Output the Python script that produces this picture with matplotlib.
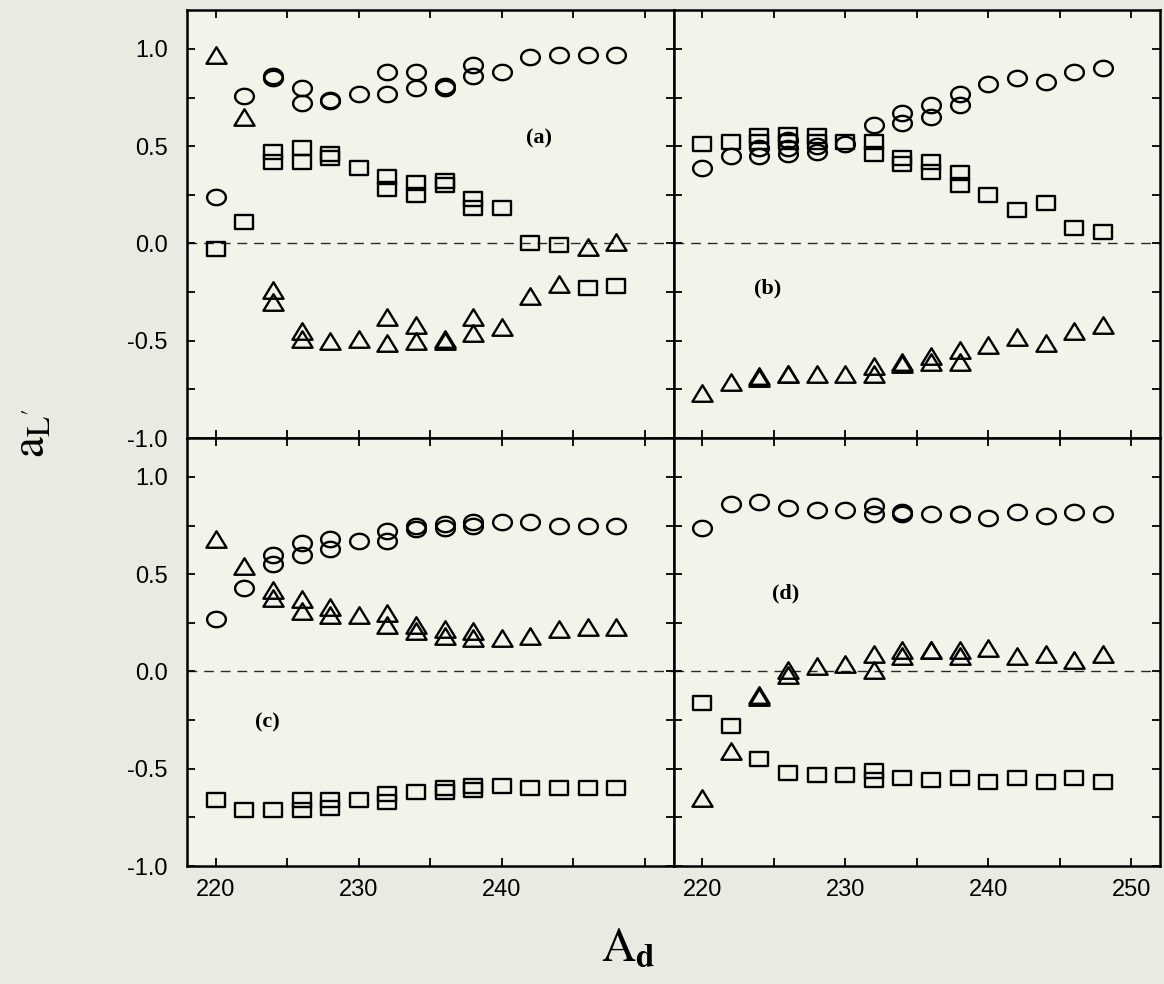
import numpy as np
import matplotlib
matplotlib.use("Agg")
import matplotlib.pyplot as plt
from matplotlib.path import Path

plt.rcParams['axes.unicode_minus'] = False
plt.rcParams['mathtext.fontset'] = 'stix'

# A_d values (one entry per point, repeated where points overlap)
# ---- panel (a)
a_circ_x = [220, 222, 224, 224, 226, 226, 228, 228, 230, 232, 232, 234, 234, 236, 236, 238, 238, 240, 242, 244, 246, 248]
a_circ_y = [0.24, 0.76, 0.86, 0.85, 0.80, 0.72, 0.74, 0.73, 0.77, 0.88, 0.77, 0.88, 0.80, 0.81, 0.80, 0.92, 0.86, 0.88, 0.96, 0.97, 0.97, 0.97]
a_sq_x = [220, 222, 224, 224, 226, 226, 228, 228, 230, 232, 232, 234, 234, 236, 236, 238, 238, 240, 242, 244, 246, 248]
a_sq_y = [-0.03, 0.11, 0.47, 0.42, 0.49, 0.42, 0.46, 0.44, 0.39, 0.34, 0.28, 0.31, 0.25, 0.32, 0.30, 0.23, 0.18, 0.18, 0.00, -0.01, -0.23, -0.22]
a_tri_x = [220, 222, 224, 224, 226, 226, 228, 230, 232, 232, 234, 234, 236, 236, 238, 238, 240, 242, 244, 246, 248]
a_tri_y = [0.97, 0.65, -0.24, -0.30, -0.45, -0.49, -0.50, -0.49, -0.38, -0.51, -0.42, -0.50, -0.49, -0.50, -0.38, -0.46, -0.43, -0.27, -0.21, -0.02, 0.01]

# ---- panel (b)
b_circ_x = [220, 222, 224, 224, 226, 226, 226, 228, 228, 230, 232, 234, 234, 236, 236, 238, 238, 240, 242, 244, 246, 248]
b_circ_y = [0.39, 0.45, 0.49, 0.45, 0.53, 0.49, 0.46, 0.50, 0.47, 0.51, 0.61, 0.67, 0.62, 0.71, 0.65, 0.77, 0.71, 0.82, 0.85, 0.83, 0.88, 0.90]
b_sq_x = [220, 222, 224, 224, 226, 226, 228, 228, 230, 232, 232, 234, 234, 236, 236, 238, 238, 240, 242, 244, 246, 248]
b_sq_y = [0.51, 0.52, 0.55, 0.52, 0.56, 0.52, 0.55, 0.52, 0.52, 0.52, 0.46, 0.44, 0.41, 0.42, 0.37, 0.36, 0.30, 0.25, 0.17, 0.21, 0.08, 0.06]
b_tri_x = [220, 222, 224, 224, 226, 226, 228, 230, 232, 232, 234, 234, 236, 236, 238, 238, 240, 242, 244, 246, 248]
b_tri_y = [-0.77, -0.71, -0.68, -0.69, -0.67, -0.67, -0.67, -0.67, -0.63, -0.67, -0.61, -0.62, -0.58, -0.61, -0.55, -0.61, -0.52, -0.48, -0.51, -0.45, -0.42]

# ---- panel (c)
c_circ_x = [220, 222, 224, 224, 226, 226, 228, 228, 230, 232, 232, 234, 234, 236, 236, 238, 238, 240, 242, 244, 246, 248]
c_circ_y = [0.27, 0.43, 0.60, 0.55, 0.66, 0.60, 0.68, 0.63, 0.67, 0.72, 0.67, 0.75, 0.73, 0.76, 0.74, 0.77, 0.75, 0.77, 0.77, 0.75, 0.75, 0.75]
c_tri_x = [220, 222, 224, 224, 226, 226, 228, 228, 230, 232, 232, 234, 234, 236, 236, 238, 238, 240, 242, 244, 246, 248]
c_tri_y = [0.68, 0.54, 0.42, 0.38, 0.37, 0.31, 0.33, 0.29, 0.29, 0.30, 0.24, 0.24, 0.21, 0.22, 0.18, 0.21, 0.17, 0.17, 0.18, 0.22, 0.23, 0.23]
c_sq_x = [220, 222, 224, 226, 226, 228, 228, 230, 232, 232, 234, 236, 236, 238, 238, 240, 242, 244, 246, 248]
c_sq_y = [-0.66, -0.71, -0.71, -0.66, -0.71, -0.66, -0.70, -0.66, -0.63, -0.67, -0.62, -0.60, -0.62, -0.59, -0.61, -0.59, -0.60, -0.60, -0.60, -0.60]

# ---- panel (d)
d_circ_x = [220, 222, 224, 226, 228, 230, 232, 232, 234, 234, 236, 238, 238, 240, 242, 244, 246, 248]
d_circ_y = [0.74, 0.86, 0.87, 0.84, 0.83, 0.83, 0.85, 0.81, 0.82, 0.81, 0.81, 0.81, 0.81, 0.79, 0.82, 0.80, 0.82, 0.81]
d_tri_x = [220, 222, 224, 224, 226, 226, 228, 230, 232, 232, 234, 234, 236, 236, 238, 238, 240, 242, 244, 246, 248]
d_tri_y = [-0.65, -0.41, -0.13, -0.12, 0.01, -0.02, 0.03, 0.04, 0.09, 0.01, 0.11, 0.08, 0.11, 0.11, 0.11, 0.08, 0.12, 0.08, 0.09, 0.06, 0.09]
d_sq_x = [220, 222, 224, 226, 228, 230, 232, 232, 234, 236, 238, 240, 242, 244, 246, 248]
d_sq_y = [-0.16, -0.28, -0.45, -0.52, -0.53, -0.53, -0.51, -0.56, -0.55, -0.56, -0.55, -0.57, -0.55, -0.57, -0.55, -0.57]

panel_labels = ['(a)', '(b)', '(c)', '(d)']
label_pos = [(242.6, 0.54), (224.6, -0.23), (223.6, -0.26), (225.8, 0.40)]

# scanned markers are a bit wider than tall
ASP = 1.22
t = np.linspace(0, 2 * np.pi, 60)
circ_marker = Path(np.column_stack([ASP * np.cos(t), np.sin(t)]), closed=True)
sq_marker = Path([(-ASP, -1), (ASP, -1), (ASP, 1), (-ASP, 1), (-ASP, -1)], closed=True)
tri_marker = Path([(-ASP, -1), (ASP, -1), (0, 1), (-ASP, -1)], closed=True)

BG = '#ebeae2'
PANEL_BG = '#f4f3ea'

fig, axes = plt.subplots(2, 2, figsize=(11.64, 9.84), dpi=100, facecolor=BG)
fig.subplots_adjust(left=0.1607, right=0.9966, top=0.9898, bottom=0.1199,
                    hspace=0, wspace=0)

data = [
    [(a_circ_x, a_circ_y), (a_sq_x, a_sq_y), (a_tri_x, a_tri_y)],
    [(b_circ_x, b_circ_y), (b_sq_x, b_sq_y), (b_tri_x, b_tri_y)],
    [(c_circ_x, c_circ_y), (c_sq_x, c_sq_y), (c_tri_x, c_tri_y)],
    [(d_circ_x, d_circ_y), (d_sq_x, d_sq_y), (d_tri_x, d_tri_y)],
]
markers = [(circ_marker, 13.5), (sq_marker, 12.5), (tri_marker, 14.5)]

yt = np.arange(-1.0, 1.01, 0.25)
xt = np.arange(220, 251, 5)

for i, ax in enumerate(axes.flat):
    ax.set_facecolor(PANEL_BG)
    ax.axhline(0, color='#2a2a2a', lw=1.0, ls=(0, (7, 5)), zorder=1)
    for (xs, ys), (mk, ms) in zip(data[i], markers):
        ax.plot(xs, ys, ls='none', marker=mk, ms=ms, mfc='none',
                mec='black', mew=1.7, zorder=3)
    ax.text(label_pos[i][0], label_pos[i][1], panel_labels[i],
            family='Liberation Serif', fontweight='bold', fontsize=16,
            ha='center', va='center')

    ax.set_xlim(218, 252)
    ax.set_ylim(-1.0, 1.2)
    ax.set_xticks(xt)
    ax.set_yticks(yt)
    ax.tick_params(direction='in', length=6, width=1.3, top=True, right=True,
                   labelsize=17)
    ax.tick_params(axis='y', pad=14)
    ax.tick_params(axis='x', pad=9)
    for sp in ax.spines.values():
        sp.set_linewidth(1.8)

    row, col = divmod(i, 2)
    if col == 0:
        ylabs = ['%.1f' % v if abs(v * 2 - round(v * 2)) < 1e-6 else '' for v in yt]
        ax.set_yticklabels(ylabs, family='Liberation Sans')
    else:
        ax.set_yticklabels([])
    if row == 1:
        xlabs = [str(v) if v % 10 == 0 else '' for v in xt]
        if col == 0:
            xlabs[-1] = ''
        ax.set_xticklabels(xlabs, family='Liberation Sans')
    else:
        ax.set_xticklabels([])

fig.text(0.028, 0.56, r"$\mathrm{a}_{\mathrm{L}'}$", rotation=90,
         fontsize=34, ha='center', va='center')
fig.text(0.54, 0.036, r"$\mathrm{A}_{\mathbf{d}}$", fontsize=34,
         ha='center', va='center')

fig.savefig('out.png', dpi=100, facecolor=BG)
